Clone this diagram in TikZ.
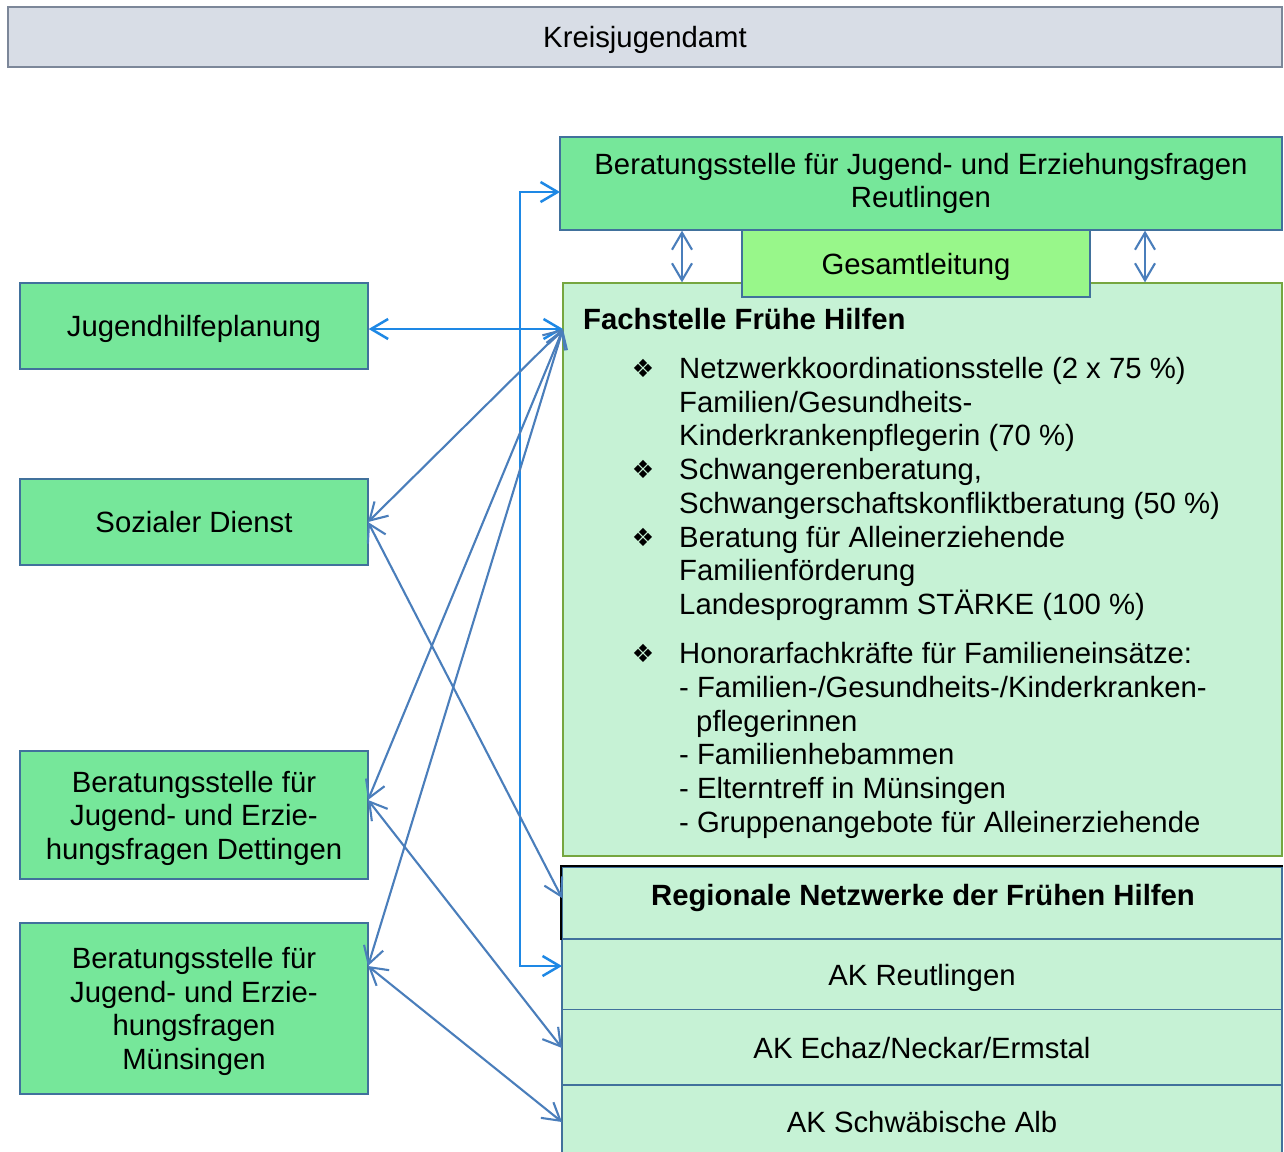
\documentclass[tikz,border=0pt]{standalone}
\usepackage{fontspec}
\setmainfont{Liberation Sans}
\newfontfamily\symfont{DejaVu Sans}
\usetikzlibrary{arrows.meta}
\definecolor{kfill}{RGB}{216,221,230}
\definecolor{kdraw}{RGB}{124,135,153}
\definecolor{mgreen}{RGB}{118,231,154}
\definecolor{lgreen}{RGB}{152,247,138}
\definecolor{pgreen}{RGB}{198,242,213}
\definecolor{olive}{RGB}{118,166,64}
\definecolor{bblue}{RGB}{65,113,156}
\definecolor{brightblue}{RGB}{30,136,229}
\definecolor{darkblue}{RGB}{74,126,187}
\begin{document}
\begin{tikzpicture}[x=1pt,y=-1pt,
  font=\fontsize{29.3}{33.5}\selectfont,
  box/.style={draw=bblue, line width=1.3pt, inner sep=0pt, align=center},
  gbox/.style={box, fill=mgreen, minimum width=348pt, text depth=0pt},
  akbox/.style={box, fill=pgreen, minimum width=720pt, text depth=0pt},
  txt/.style={anchor=base west, inner sep=0pt},
  bul/.style={inner sep=0pt, font=\symfont\fontsize{25}{25}\selectfont},
  bright/.style={draw=brightblue, line width=2.5pt, {Straight Barb[length=17pt,width=20pt]}-{Straight Barb[length=17pt,width=20pt]}},
  dark/.style={draw=darkblue, line width=2.1pt, {Straight Barb[length=17pt,width=20pt]}-{Straight Barb[length=17pt,width=20pt]}}
]
\clip (0,0) rectangle (1284,1151);
\fill[white] (0,0) rectangle (1284,1151);

% top box
\node[box, draw=kdraw, fill=kfill, minimum width=1274pt, minimum height=60pt, text depth=0pt] (kreis) at (645,37) {Kreisjugendamt};

% right upper boxes
\node[box, fill=mgreen, minimum width=722pt, minimum height=93pt] (ber) at (921,183.5) {Beratungsstelle für Jugend- und Erziehungsfragen\\Reutlingen};
\node[box, draw=olive, fill=pgreen, minimum width=719pt, minimum height=573pt] (fach) at (922.5,569.5) {};
\node[box, fill=lgreen, minimum width=348pt, minimum height=67pt, text depth=0pt] (ges) at (916,263.5) {Gesamtleitung};

% Fachstelle content
\node[txt] (ft) at (583,329.5) {\bfseries Fachstelle Frühe Hilfen};
\node[bul] (b1) at (643,368) {❖};
\node[bul] (b2) at (643,469) {❖};
\node[bul] (b3) at (643,537) {❖};
\node[bul] (b4) at (643,653) {❖};
\node[txt] (l1) at (679,378.5) {Netzwerkkoordinationsstelle (2 x 75 \%)};
\node[txt] (l2) at (679,412) {Familien/Gesundheits-};
\node[txt] (l3) at (679,445.5) {Kinderkrankenpflegerin (70 \%)};
\node[txt] (l4) at (679,479.5) {Schwangerenberatung,};
\node[txt] (l5) at (679,513.5) {Schwangerschaftskonfliktberatung (50 \%)};
\node[txt] (l6) at (679,547.5) {Beratung für Alleinerziehende};
\node[txt] (l7) at (679,580.5) {Familienförderung};
\node[txt] (l8) at (679,614.5) {Landesprogramm STÄRKE (100 \%)};
\node[txt] (l9) at (679,663.5) {Honorarfachkräfte für Familieneinsätze:};
\node[txt] (l10) at (679,697.5) {- Familien-/Gesundheits-/Kinderkranken-};
\node[txt] (l11) at (696,731.5) {pflegerinnen};
\node[txt] (l12) at (679,764.5) {- Familienhebammen};
\node[txt] (l13) at (679,798.5) {- Elterntreff in Münsingen};
\node[txt] (l14) at (679,832.5) {- Gruppenangebote für Alleinerziehende};

% regional networks
\node[akbox, minimum height=72pt] (reg) at (922,903) {};
\node[inner sep=0pt, text depth=0pt] (regt) at (923,895) {\bfseries Regionale Netzwerke der Frühen Hilfen};
\node[akbox, minimum height=70pt] (ak1) at (922,974.5) {AK Reutlingen};
\node[akbox, minimum height=76pt] (ak2) at (922,1047.5) {AK Echaz/Neckar/Ermstal};
\node[akbox, minimum height=74pt] (ak3) at (922,1122) {AK Schwäbische Alb};
\draw[black, line width=2pt] (reg.south west) -- (reg.north west) -- (reg.north east);

% left boxes
\node[gbox, minimum height=86pt] (jhp) at (194,326) {Jugendhilfeplanung};
\node[gbox, minimum height=86pt] (soz) at (194,522) {Sozialer Dienst};
\node[gbox, minimum height=128pt] (det) at (194,815) {Beratungsstelle für\\Jugend- und Erzie-\\hungsfragen Dettingen};
\node[gbox, minimum height=171pt] (mun) at (194,1008.5) {Beratungsstelle für\\Jugend- und Erzie-\\hungsfragen\\Münsingen};

% attachment points
\coordinate (fp) at (563,329);
\coordinate (sozE) at (368,522);
\coordinate (detE) at (368,800);
\coordinate (munE) at (368,966);
\coordinate (regW) at (562,898);
\coordinate (ak1W) at (562,966);
\coordinate (ak2W) at (562,1048);
\coordinate (ak3W) at (562,1122);
\coordinate (berW) at (560,192);

% connectors
\draw[bright] (jhp.east |- fp) -- (fp);
\draw[bright] (berW) -- (520,192) -- (520,966) -- (ak1W);
\draw[dark] (fp) -- (sozE);
\draw[dark] (fp) -- (detE);
\draw[dark] (fp) -- (munE);
\draw[dark] (sozE) -- (regW);
\draw[dark] (detE) -- (ak2W);
\draw[dark] (munE) -- (ak3W);
\draw[dark] (ber.south -| 682,0) -- (fach.north -| 682,0);
\draw[dark] (ber.south -| 1145,0) -- (fach.north -| 1145,0);
\end{tikzpicture}
\end{document}
